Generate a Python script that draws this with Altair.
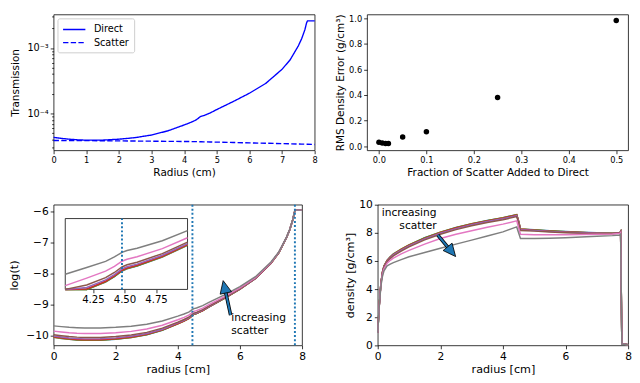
import altair as alt
import pandas as pd

FONT = "DejaVu Sans"
TAB10 = ["#1f77b4", "#ff7f0e", "#2ca02c", "#d62728", "#9467bd", "#8c564b", "#e377c2", "#7f7f7f"]
ARROW_BLUE = "#1f77b4"
HEAD_PATH = "M0,-1L0.92,1L-0.92,1Z"

# ---------------- top-left: transmission vs radius ----------------
RADIUS = [0, 0.25, 0.5, 0.75, 1.0, 1.5, 2.0, 2.5, 3.0, 3.5, 4.0, 4.2, 4.35, 4.42, 4.48,
          4.52, 4.6, 4.8, 5.0, 5.5, 6.0, 6.5, 7.0, 7.25, 7.5, 7.6, 7.7, 7.75, 7.78, 8.0]
DIRECT = [4.315e-5, 4.169e-5, 4.046e-5, 3.963e-5, 3.917e-5, 3.926e-5, 4.055e-5, 4.285e-5,
          4.699e-5, 5.433e-5, 6.683e-5, 7.30e-5, 7.90e-5, 8.35e-5, 8.85e-5, 9.05e-5, 9.30e-5,
          10.2e-5, 11.5e-5, 15.2e-5, 20.4e-5, 28.8e-5, 47.3e-5, 66.1e-5, 108e-5, 138e-5,
          190e-5, 240e-5, 260e-5, 260e-5]
SCATTER = [3.87e-5, 3.87e-5, 3.86e-5, 3.86e-5, 3.85e-5, 3.84e-5, 3.82e-5, 3.80e-5, 3.78e-5,
           3.76e-5, 3.74e-5, 3.73e-5, 3.72e-5, 3.71e-5, 3.70e-5, 3.70e-5, 3.69e-5, 3.68e-5,
           3.66e-5, 3.61e-5, 3.56e-5, 3.52e-5, 3.47e-5, 3.45e-5, 3.42e-5, 3.41e-5, 3.40e-5,
           3.39e-5, 3.39e-5, 3.36e-5]
TL_MAJOR_TICKS = [1e-4, 1e-3]
TL_MINOR_TICKS = [3e-5, 4e-5, 5e-5, 6e-5, 7e-5, 8e-5, 9e-5, 2e-4, 3e-4, 4e-4, 5e-4, 6e-4,
                  7e-4, 8e-4, 9e-4, 2e-3, 3e-3]

# ---------------- top-right: RMS error vs scatter fraction ----------------
FRACTIONS = [0.0, 0.007, 0.014, 0.02, 0.05, 0.1, 0.25, 0.5]
RMS_ERROR = [0.03, 0.025, 0.02, 0.02, 0.072, 0.112, 0.38, 0.983]

# ---------------- bottom-left: log(t) for each scatter fraction ----------------
LOGT_F000 = [-10.051, -10.085, -10.115, -10.136, -10.148, -10.145, -10.113, -10.058, -9.966, -9.821,
             -9.613, -9.525, -9.446, -9.391, -9.333, -9.310, -9.283, -9.191, -9.071, -8.792,
             -8.498, -8.153, -7.657, -7.322, -6.831, -6.586, -6.266, -6.032, -5.952, -5.952]
LOGT_F005 = [-10.047, -10.080, -10.110, -10.131, -10.143, -10.140, -10.108, -10.054, -9.962, -9.818,
             -9.610, -9.522, -9.444, -9.389, -9.331, -9.308, -9.281, -9.189, -9.069, -8.791,
             -8.497, -8.152, -7.657, -7.322, -6.831, -6.586, -6.266, -6.032, -5.952, -5.952]
LOGT_F010 = [-10.042, -10.076, -10.106, -10.126, -10.138, -10.135, -10.104, -10.049, -9.958, -9.814,
             -9.607, -9.520, -9.441, -9.387, -9.329, -9.306, -9.279, -9.187, -9.068, -8.790,
             -8.496, -8.152, -7.656, -7.321, -6.831, -6.586, -6.266, -6.032, -5.952, -5.952]
LOGT_F020 = [-10.033, -10.067, -10.096, -10.117, -10.129, -10.126, -10.094, -10.040, -9.950, -9.807,
             -9.602, -9.515, -9.437, -9.382, -9.325, -9.302, -9.275, -9.184, -9.065, -8.787,
             -8.495, -8.151, -7.656, -7.321, -6.830, -6.586, -6.266, -6.032, -5.952, -5.952]
LOGT_F050 = [-10.007, -10.040, -10.068, -10.088, -10.100, -10.097, -10.067, -10.015, -9.927, -9.787,
             -9.585, -9.500, -9.423, -9.369, -9.312, -9.290, -9.263, -9.173, -9.055, -8.780,
             -8.489, -8.147, -7.653, -7.319, -6.829, -6.585, -6.265, -6.031, -5.951, -5.951]
LOGT_F100 = [-9.965, -9.997, -10.024, -10.043, -10.055, -10.052, -10.023, -9.973, -9.889, -9.754,
             -9.559, -9.475, -9.400, -9.348, -9.292, -9.270, -9.244, -9.156, -9.040, -8.769,
             -8.481, -8.141, -7.650, -7.317, -6.828, -6.584, -6.264, -6.031, -5.951, -5.951]
LOGT_F250 = [-9.849, -9.876, -9.901, -9.918, -9.928, -9.926, -9.902, -9.858, -9.783, -9.661,
             -9.482, -9.405, -9.335, -9.286, -9.234, -9.213, -9.188, -9.105, -8.995, -8.734,
             -8.455, -8.123, -7.639, -7.309, -6.823, -6.580, -6.262, -6.029, -5.949, -5.949]
LOGT_F500 = [-9.680, -9.704, -9.725, -9.739, -9.748, -9.747, -9.727, -9.691, -9.628, -9.524,
             -9.366, -9.297, -9.235, -9.190, -9.143, -9.124, -9.102, -9.025, -8.923, -8.680,
             -8.414, -8.094, -7.621, -7.296, -6.815, -6.574, -6.257, -6.025, -5.945, -5.946]
BOUNDARY_RADII = [4.47, 7.77]
INSET_BOUNDARY = [4.48]

# ---------------- bottom-right: reconstructed density ----------------
DENS_RADIUS = [0, 0.05, 0.1, 0.15, 0.2, 0.3, 0.4, 0.5, 0.75, 1.0, 1.5, 2.0, 2.5, 3.0, 3.5,
               4.0, 4.44, 4.5, 4.56, 5.0, 5.5, 6.0, 6.5, 7.0, 7.5, 7.74, 7.76, 7.8, 8.0]
DENS_F000 = [0.9, 2.9, 4.4, 5.2, 5.65, 6.05, 6.3, 6.5, 6.85, 7.15, 7.65, 8.05, 8.38, 8.65, 8.88,
             9.08, 9.30, 8.85, 8.28, 8.22, 8.15, 8.09, 8.04, 8.0, 7.98, 8.02, 8.1, 0.12, 0.05]
DENS_F005 = [0.9, 2.9, 4.4, 5.2, 5.65, 6.04, 6.29, 6.49, 6.84, 7.14, 7.64, 8.04, 8.37, 8.64, 8.87,
             9.07, 9.29, 8.84, 8.27, 8.21, 8.14, 8.08, 8.03, 7.99, 7.97, 8.01, 8.09, 0.12, 0.05]
DENS_F010 = [0.9, 2.9, 4.4, 5.19, 5.64, 6.03, 6.28, 6.48, 6.83, 7.13, 7.63, 8.03, 8.36, 8.63, 8.86,
             9.06, 9.28, 8.83, 8.26, 8.2, 8.13, 8.07, 8.03, 7.99, 7.97, 8.01, 8.09, 0.12, 0.05]
DENS_F020 = [0.9, 2.9, 4.39, 5.19, 5.63, 6.02, 6.27, 6.46, 6.81, 7.11, 7.61, 8.01, 8.34, 8.61, 8.84,
             9.04, 9.26, 8.81, 8.25, 8.19, 8.12, 8.06, 8.02, 7.98, 7.96, 8.0, 8.08, 0.12, 0.05]
DENS_F050 = [0.9, 2.89, 4.38, 5.17, 5.61, 5.99, 6.23, 6.43, 6.77, 7.07, 7.57, 7.97, 8.3, 8.57, 8.8,
             9.0, 9.22, 8.77, 8.22, 8.16, 8.1, 8.04, 8.0, 7.97, 7.95, 7.99, 8.07, 0.12, 0.05]
DENS_F100 = [0.9, 2.88, 4.36, 5.14, 5.57, 5.94, 6.17, 6.36, 6.7, 7.0, 7.5, 7.9, 8.23, 8.5, 8.73,
             8.93, 9.15, 8.71, 8.17, 8.12, 8.06, 8.01, 7.97, 7.94, 7.93, 7.98, 8.06, 0.12, 0.05]
DENS_F250 = [0.9, 2.85, 4.3, 5.05, 5.45, 5.85, 6.05, 6.2, 6.5, 6.75, 7.2, 7.6, 7.9, 8.15, 8.4,
             8.62, 8.85, 8.38, 7.9, 7.87, 7.86, 7.87, 7.88, 7.9, 7.92, 7.96, 8.02, 0.11, 0.05]
DENS_F500 = [0.9, 2.8, 4.2, 4.9, 5.3, 5.65, 5.78, 5.88, 6.1, 6.3, 6.6, 6.9, 7.2, 7.48, 7.78,
             8.07, 8.42, 8.0, 7.6, 7.6, 7.62, 7.65, 7.7, 7.75, 7.8, 7.85, 7.9, 0.1, 0.05]

LOGT_SERIES = [LOGT_F000, LOGT_F005, LOGT_F010, LOGT_F020, LOGT_F050, LOGT_F100, LOGT_F250, LOGT_F500]
DENS_SERIES = [DENS_F000, DENS_F005, DENS_F010, DENS_F020, DENS_F050, DENS_F100, DENS_F250, DENS_F500]

ANNOT_LABELS = ["increasing", "scatter"]

# ======================= top-left panel =======================
tl_df = pd.DataFrame({
    "r": RADIUS + RADIUS,
    "t": DIRECT + SCATTER,
    "kind": ["Direct"] * len(RADIUS) + ["Scatter"] * len(RADIUS),
})
tl_yscale = alt.Scale(type="log", domain=[2.74e-5, 3.25e-3], nice=False)
tl_lines = alt.Chart(tl_df).mark_line(color="#0000ff", strokeWidth=1.4).encode(
    x=alt.X("r:Q", scale=alt.Scale(domain=[0, 8], nice=False, zero=False),
            axis=alt.Axis(title="Radius (cm)", values=list(range(9)), format="d",
                          labelFontSize=8.5, titleFontSize=10.8, titlePadding=3)),
    y=alt.Y("t:Q", scale=tl_yscale,
            axis=alt.Axis(title="Transmission", values=TL_MAJOR_TICKS,
                          labelExpr="datum.value < 0.0005 ? '10⁻⁴' : '10⁻³'",
                          labelFontSize=10, titleFontSize=10.8, titlePadding=7)),
    strokeDash=alt.StrokeDash(
        "kind:N",
        scale=alt.Scale(domain=["Direct", "Scatter"], range=[[1, 0], [5.5, 2.4]]),
        legend=alt.Legend(title=None, orient="top-left", offset=4, padding=5, rowPadding=1.5,
                          fillColor="white", strokeColor="#cccccc", cornerRadius=2,
                          symbolType="M-1,0L3,0", symbolSize=132, symbolStrokeWidth=1.5,
                          symbolStrokeColor="#0000ff", labelFont=FONT, labelFontSize=10,
                          labelOffset=19.5),
    ),
)
tl_minor = alt.Chart(pd.DataFrame({"m": TL_MINOR_TICKS})).mark_point(opacity=0).encode(
    y=alt.Y("m:Q", scale=tl_yscale,
            axis=alt.Axis(values=TL_MINOR_TICKS, labels=False, tickSize=2, title=None, orient="left")),
)
tl = alt.layer(tl_lines, tl_minor).resolve_axis(y="independent").properties(width=269, height=140)

# ======================= top-right panel =======================
tr_df = pd.DataFrame({"f": FRACTIONS, "e": RMS_ERROR})
tr = alt.Chart(tr_df).mark_circle(color="black", size=32, opacity=1).encode(
    x=alt.X("f:Q", scale=alt.Scale(domain=[-0.025, 0.525], nice=False, zero=False),
            axis=alt.Axis(title="Fraction of Scatter Added to Direct",
                          values=[0, 0.1, 0.2, 0.3, 0.4, 0.5], format=".1f",
                          labelFontSize=8.5, titleFontSize=10.8, titlePadding=3)),
    y=alt.Y("e:Q", scale=alt.Scale(domain=[-0.033, 1.031], nice=False, zero=False),
            axis=alt.Axis(title="RMS Density Error (g/cm³)",
                          values=[0, 0.2, 0.4, 0.6, 0.8, 1.0], format=".1f",
                          labelFontSize=8.5, titleFontSize=10.8, titlePadding=3)),
).properties(width=269, height=140)

# ======================= bottom-left panel =======================
BL_W, BL_H = 256, 145


def blx():
    return alt.X("r:Q", scale=alt.Scale(domain=[0, 8], nice=False, zero=False),
                 axis=alt.Axis(title="radius [cm]", values=[0, 2, 4, 6, 8], format="d",
                               labelFontSize=11, titleFontSize=11.5, titlePadding=2))


def bly():
    return alt.Y("v:Q", scale=alt.Scale(domain=[-10.31, -5.77], nice=False, zero=False),
                 axis=alt.Axis(title="log(t)", values=[-10, -9, -8, -7, -6], format="d",
                               labelFontSize=11, titleFontSize=11.5, titlePadding=6))


bl_main = []
for vals, col in zip(LOGT_SERIES, TAB10):
    bl_main.append(alt.Chart(pd.DataFrame({"r": RADIUS, "v": vals}))
                   .mark_line(color=col, strokeWidth=1.5).encode(x=blx(), y=bly()))
bl_main.append(alt.Chart(pd.DataFrame({"r": BOUNDARY_RADII}))
               .mark_rule(color=TAB10[0], strokeDash=[2, 2.2], strokeWidth=2).encode(x=blx()))
bl_main.append(alt.Chart(pd.DataFrame({"r": [5.72, 5.72], "v": [-9.43, -9.85], "label": ANNOT_LABELS}))
               .mark_text(align="left", baseline="middle", font=FONT, fontSize=11, color="black")
               .encode(x=blx(), y=bly(), text="label:N"))
bl_shaft = pd.DataFrame({"r": [5.70], "v": [-9.33], "r2": [5.535], "v2": [-8.57]})
bl_main.append(alt.Chart(bl_shaft).mark_rule(color="black", strokeWidth=3.6)
               .encode(x=blx(), y=bly(), x2="r2:Q", y2="v2:Q"))
bl_main.append(alt.Chart(bl_shaft).mark_rule(color=ARROW_BLUE, strokeWidth=2.0)
               .encode(x=blx(), y=bly(), x2="r2:Q", y2="v2:Q"))
bl_main.append(alt.Chart(pd.DataFrame({"r": [5.503], "v": [-8.419]}))
               .mark_point(shape=HEAD_PATH, size=169, filled=True, fill=ARROW_BLUE, stroke="black",
                           strokeWidth=0.8, angle=347.7, opacity=1, fillOpacity=1, strokeOpacity=1)
               .encode(x=blx(), y=bly()))

IN_X0, IN_X1, IN_YB, IN_YT = 12, 138, 87.3, 14.3
IN_XDOM = [4.03, 5.0]
IN_YDOM = [-9.52, -8.80]


def inx():
    return alt.X("r:Q", scale=alt.Scale(domain=IN_XDOM, range=[IN_X0, IN_X1], nice=False, zero=False, clamp=True),
                 axis=alt.Axis(title=None, values=[4.25, 4.5, 4.75], format=".2f", orient="bottom",
                               offset=IN_YB - BL_H, labelFontSize=10.5, labelPadding=2))


def iny():
    return alt.Y("v:Q", scale=alt.Scale(domain=IN_YDOM, range=[IN_YB, IN_YT], nice=False, zero=False, clamp=True),
                 axis=None)


inset_frame = pd.DataFrame({"r": [IN_XDOM[0]], "r2": [IN_XDOM[1]], "v": [IN_YDOM[0]], "v2": [IN_YDOM[1]]})
bl_inset = [alt.Chart(inset_frame).mark_rect(fill="white", stroke="black", strokeWidth=0.8)
            .encode(x=inx(), y=iny(), x2="r2:Q", y2="v2:Q")]
for vals, col in zip(LOGT_SERIES, TAB10):
    bl_inset.append(alt.Chart(pd.DataFrame({"r": RADIUS, "v": vals}))
                    .transform_filter("datum.r >= 4.0 && datum.r <= 5.0")
                    .mark_line(color=col, strokeWidth=1.5).encode(x=inx(), y=iny()))
bl_inset.append(alt.Chart(pd.DataFrame({"r": INSET_BOUNDARY, "v": [IN_YDOM[0]], "v2": [IN_YDOM[1]]}))
                .mark_rule(color=TAB10[0], strokeDash=[2, 2.2], strokeWidth=2)
                .encode(x=inx(), y=iny(), y2="v2:Q"))

bl = alt.layer(alt.layer(*bl_main), alt.layer(*bl_inset)).resolve_scale(
    x="independent", y="independent").properties(width=BL_W, height=BL_H)

# ======================= bottom-right panel =======================


def brx():
    return alt.X("r:Q", scale=alt.Scale(domain=[0, 8], nice=False, zero=False),
                 axis=alt.Axis(title="radius [cm]", values=[0, 2, 4, 6, 8], format="d",
                               labelFontSize=11, titleFontSize=11.5, titlePadding=2))


def bry():
    return alt.Y("v:Q", scale=alt.Scale(domain=[0, 10], nice=False, zero=False),
                 axis=alt.Axis(title="density [g/cm³]", values=[0, 2, 4, 6, 8, 10], format="d",
                               labelFontSize=11, titleFontSize=11.5, titlePadding=3))


br_layers = []
for vals, col in zip(DENS_SERIES, TAB10):
    br_layers.append(alt.Chart(pd.DataFrame({"r": DENS_RADIUS, "v": vals}))
                     .mark_line(color=col, strokeWidth=1.5).encode(x=brx(), y=bry()))
br_layers.append(alt.Chart(pd.DataFrame({"r": [1.88, 1.88], "v": [9.38, 8.5], "label": ANNOT_LABELS}))
                 .mark_text(align="right", baseline="middle", font=FONT, fontSize=11, color="black")
                 .encode(x=brx(), y=bry(), text="label:N"))
br_shaft = pd.DataFrame({"r": [1.92], "v": [7.84], "r2": [2.27], "v2": [6.90]})
br_layers.append(alt.Chart(br_shaft).mark_rule(color="black", strokeWidth=3.6)
                 .encode(x=brx(), y=bry(), x2="r2:Q", y2="v2:Q"))
br_layers.append(alt.Chart(br_shaft).mark_rule(color=ARROW_BLUE, strokeWidth=2.0)
                 .encode(x=brx(), y=bry(), x2="r2:Q", y2="v2:Q"))
br_layers.append(alt.Chart(pd.DataFrame({"r": [2.36], "v": [6.66]}))
                 .mark_point(shape=HEAD_PATH, size=169, filled=True, fill=ARROW_BLUE, stroke="black",
                             strokeWidth=0.8, angle=140.5, opacity=1, fillOpacity=1, strokeOpacity=1)
                 .encode(x=brx(), y=bry()))
br = alt.layer(*br_layers).properties(width=258, height=145)

# ======================= assemble =======================
row1 = alt.hconcat(tl, tr, spacing=54, bounds="flush").resolve_scale(strokeDash="independent")
row2 = alt.hconcat(bl, br, spacing=78, bounds="flush")
chart = (
    alt.vconcat(row1, row2, spacing=20)
    .resolve_scale(strokeDash="independent")
    .properties(padding=0)
    .configure_view(stroke="black", strokeWidth=0.8)
    .configure_axis(grid=False, domain=False, tickColor="black", tickWidth=0.8, tickSize=3.5,
                    labelColor="black", titleColor="black", labelFont=FONT, titleFont=FONT,
                    titleFontWeight="normal", labelFlush=False, labelPadding=2)
)

chart.save("out.html", embed_options={"renderer": "svg", "actions": False})
